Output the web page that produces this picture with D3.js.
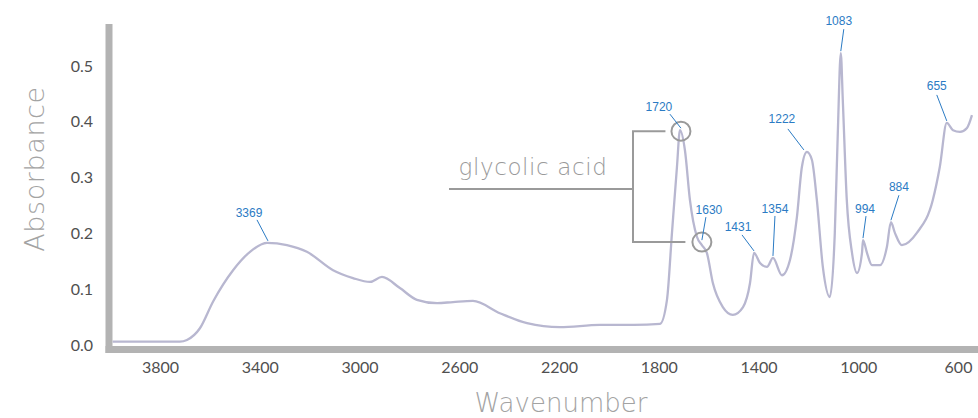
<!DOCTYPE html>
<html>
<head>
<meta charset="utf-8">
<script src="https://cdn.jsdelivr.net/npm/d3@7"></script>
<style>
  html, body { margin: 0; padding: 0; background: #fff; }
  svg { display: block; font-family: 'DejaVu Sans', sans-serif; }
</style>
</head>
<body>
<div id="chart"></div>
<script>
// spectrum (wavenumber in cm-1, absorbance)
const wavenumbers = [3990, 3720, 3692, 3640, 3587, 3507, 3439, 3371, 3291, 3211, 3106, 3026, 2958, 2910, 2838, 2770, 2689, 2625, 2545, 2437, 2328, 2196, 2036, 1900, 1795,
  1767, 1747, 1727, 1715, 1695, 1675, 1647, 1627, 1607, 1583, 1543, 1503, 1462, 1434, 1418, 1394, 1366, 1342, 1306, 1274, 1246, 1226, 1206, 1186, 1166, 1142, 1114,
  1094, 1082, 1070, 1062, 1046, 1025, 1005, 985, 981, 965, 945, 913, 885, 869, 853, 825, 765, 701, 673, 645, 620, 592, 564, 544];
const absorbance = [0.006, 0.006, 0.009, 0.030, 0.078, 0.134, 0.167, 0.183, 0.179, 0.167, 0.134, 0.120, 0.113, 0.122, 0.102, 0.081, 0.075, 0.077, 0.079, 0.057, 0.039, 0.032, 0.036, 0.036, 0.038,
  0.081, 0.201, 0.319, 0.385, 0.349, 0.260, 0.194, 0.179, 0.165, 0.111, 0.068, 0.054, 0.068, 0.111, 0.165, 0.147, 0.140, 0.156, 0.125, 0.152, 0.229, 0.319, 0.346, 0.332, 0.260, 0.140, 0.086,
  0.201, 0.380, 0.523, 0.439, 0.260, 0.165, 0.129, 0.165, 0.188, 0.165, 0.143, 0.143, 0.176, 0.220, 0.201, 0.179, 0.201, 0.260, 0.319, 0.398, 0.385, 0.382, 0.389, 0.412];

const xTicks = [3800, 3400, 3000, 2600, 2200, 1800, 1400, 1000, 600];
const yTicks = [0.0, 0.1, 0.2, 0.3, 0.4, 0.5];

// peak labels: text, and the point of the curve it marks
const peakLabels = ['3369', '1720', '1630', '1431', '1354', '1222', '1083', '994', '884', '655'];
const peakWavenumbers = [3371, 1715, 1627, 1418, 1342, 1206, 1070, 981, 869, 645];
const peakAbsorbance = [0.183, 0.385, 0.179, 0.165, 0.156, 0.346, 0.523, 0.188, 0.220, 0.398];
const bracketLabel = 'glycolic acid';
const bracketPeaks = ['1720', '1630'];

class Spectrum {
  constructor(container) {
    this.width = 978;
    this.height = 418;
    this.svg = container.append('svg')
      .attr('width', this.width)
      .attr('height', this.height);

    this.x = d3.scaleLinear().domain([3800, 600]).range([160, 958]);
    this.y = d3.scaleLinear().domain([0, 0.5]).range([345, 66]);

    this.points = wavenumbers.map((w, i) => ({ w: w, a: absorbance[i] }));
    this.peaks = peakLabels.map((label, i) => ({ label: label, w: peakWavenumbers[i], a: peakAbsorbance[i] }));

    // label placement relative to each peak: text centre, leader start, leader end
    this.labelOffsets = {
      '3369': { t: [-18, -30], s: [-10, -23], e: [1, -2] },
      '1720': { t: [-21, -23], s: [-10, -16], e: [1, -2] },
      '1630': { t: [7, -35], s: [4, -28], e: [0, -5] },
      '1431': { t: [-16, -26], s: [-12, -18], e: [0, -2] },
      '1354': { t: [2, -49], s: [2, -42], e: [0, -2] },
      '1222': { t: [-25, -33], s: [-19, -23], e: [-3, -2] },
      '1083': { t: [-2, -32], s: [3, -24], e: [0, -2] },
      '994':  { t: [2, -31], s: [3, -24], e: [0, -2] },
      '884':  { t: [8, -35], s: [8, -27], e: [0, -2] },
      '655':  { t: [-10, -37], s: [-10, -28], e: [0, -2] }
    };
  }

  drawAxes() {
    const axisColor = '#b3b3b3';
    let xAxis = d3.axisBottom(this.x).tickValues(xTicks).tickSize(0).tickPadding(12).tickFormat(d3.format('d'));
    let yAxis = d3.axisLeft(this.y).tickValues(yTicks).tickSize(0).tickPadding(16).tickFormat(d3.format('.1f'));

    let gx = this.svg.append('g').attr('transform', 'translate(0, 349.5)').call(xAxis);
    let gy = this.svg.append('g').attr('transform', 'translate(109, 0)').call(yAxis);
    [gx, gy].forEach(g => {
      g.select('.domain').remove();
      g.selectAll('text')
        .attr('fill', '#505050')
        .style('font-family', "Lato, sans-serif")
        .style('font-size', '16px');
    });

    this.svg.append('line')
      .attr('x1', 109).attr('x2', 109).attr('y1', 24).attr('y2', 353)
      .attr('stroke', axisColor).attr('stroke-width', 7);
    this.svg.append('line')
      .attr('x1', 105.5).attr('x2', this.width).attr('y1', 349.5).attr('y2', 349.5)
      .attr('stroke', axisColor).attr('stroke-width', 7);

    this.svg.append('text')
      .attr('transform', 'translate(44, 169) rotate(-90)')
      .attr('text-anchor', 'middle')
      .attr('fill', '#a3a3a3')
      .style('font-family', "'DejaVu Sans', sans-serif")
      .style('font-weight', 200)
      .style('font-size', '27px')
      .style('letter-spacing', '0.6px')
      .text('Absorbance');

    this.svg.append('text')
      .attr('x', 561).attr('y', 412)
      .attr('text-anchor', 'middle')
      .attr('fill', '#a3a3a3')
      .style('font-family', "'DejaVu Sans', sans-serif")
      .style('font-weight', 200)
      .style('font-size', '26px')
      .text('Wavenumber');
  }

  drawLine() {
    let line = d3.line()
      .x(d => this.x(d.w))
      .y(d => this.y(d.a))
      .curve(d3.curveMonotoneX);

    this.svg.append('path')
      .datum(this.points)
      .attr('fill', 'none')
      .attr('stroke', '#b8b7d0')
      .attr('stroke-width', 2.3)
      .attr('d', line);
  }

  drawPeakLabels() {
    let labelSelector = this.svg.append('g')
      .selectAll('g')
      .data(this.peaks)
      .join('g')
      .attr('transform', d => `translate(${this.x(d.w)}, ${this.y(d.a)})`);

    labelSelector.append('line')
      .attr('x1', d => this.labelOffsets[d.label].s[0])
      .attr('y1', d => this.labelOffsets[d.label].s[1])
      .attr('x2', d => this.labelOffsets[d.label].e[0])
      .attr('y2', d => this.labelOffsets[d.label].e[1])
      .attr('stroke', '#2b7bc4')
      .attr('stroke-width', 1);

    labelSelector.append('text')
      .attr('x', d => this.labelOffsets[d.label].t[0])
      .attr('y', d => this.labelOffsets[d.label].t[1])
      .attr('dy', '0.35em')
      .attr('text-anchor', 'middle')
      .attr('fill', '#2b7bc4')
      .style('font-family', "'Liberation Sans', Arial, sans-serif")
      .style('font-size', '12px')
      .text(d => d.label);
  }

  drawBracket() {
    const grey = '#9a9a9a';
    let marked = bracketPeaks.map(label => this.peaks.find(p => p.label === label));
    let circles = marked.map((p, i) => ({ cx: this.x(p.w) + (i === 0 ? 1 : 0), cy: this.y(p.a) + (i === 0 ? 1 : -3), r: 9.5 }));

    this.svg.append('g')
      .selectAll('circle')
      .data(circles)
      .join('circle')
      .attr('cx', d => d.cx)
      .attr('cy', d => d.cy)
      .attr('r', d => d.r)
      .attr('fill', 'none')
      .attr('stroke', grey)
      .attr('stroke-width', 2);

    const stemX = 633;
    const labelY = 189;
    let path = d3.path();
    path.moveTo(circles[0].cx - circles[0].r - 6, circles[0].cy);
    path.lineTo(stemX, circles[0].cy);
    path.lineTo(stemX, circles[1].cy);
    path.lineTo(circles[1].cx - circles[1].r - 7, circles[1].cy);
    path.moveTo(stemX, labelY);
    path.lineTo(449, labelY);

    this.svg.append('path')
      .attr('d', path.toString())
      .attr('fill', 'none')
      .attr('stroke', grey)
      .attr('stroke-width', 2);

    this.svg.append('text')
      .attr('x', 533).attr('y', 175)
      .attr('text-anchor', 'middle')
      .attr('fill', '#9a9a9a')
      .style('font-family', "'DejaVu Sans', sans-serif")
      .style('font-weight', 200)
      .style('font-size', '23px')
      .style('letter-spacing', '0.6px')
      .text(bracketLabel);
  }

  render() {
    this.drawAxes();
    this.drawLine();
    this.drawBracket();
    this.drawPeakLabels();
  }
}

const chart = new Spectrum(d3.select('#chart'));
chart.render();
</script>
</body>
</html>
